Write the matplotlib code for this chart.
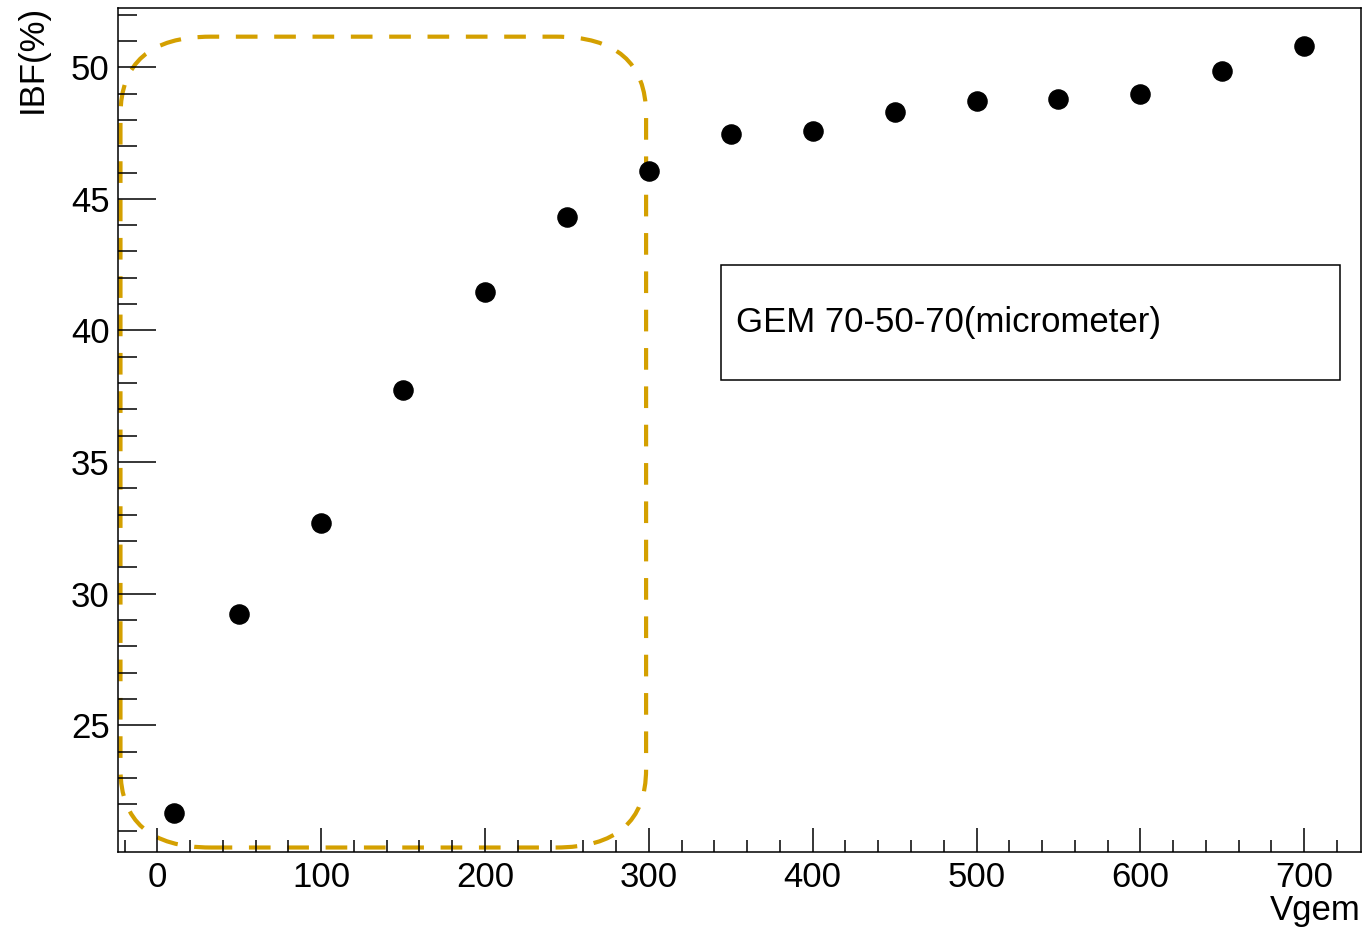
import numpy as np
import matplotlib
matplotlib.use("Agg")
import matplotlib.pyplot as plt
from matplotlib.patches import FancyBboxPatch, Rectangle
from matplotlib.ticker import MultipleLocator

plt.rcParams['font.family'] = ['Liberation Sans', 'DejaVu Sans']

# IBF vs GEM voltage
vgem = [10, 50, 100, 150, 200, 250, 300, 350, 400, 450, 500, 550, 600, 650, 700]
ibf = [21.66, 29.23, 32.70, 37.75, 41.47, 44.32, 46.07, 47.45, 47.58, 48.28,
       48.73, 48.80, 48.99, 49.86, 50.82]

label_text = "GEM 70-50-70(micrometer)"
gold = '#D4A000'

fig = plt.figure(figsize=(13.66, 9.27), dpi=100)
ax = fig.add_axes([0.0864, 0.0812, 0.9099, 0.9102])

ax.plot(vgem, ibf, 'o', color='black', markersize=13.8)

ax.set_xlim(-24, 734.6)
ax.set_ylim(20.2, 52.25)

ax.xaxis.set_major_locator(MultipleLocator(100))
ax.xaxis.set_minor_locator(MultipleLocator(20))
ax.yaxis.set_major_locator(MultipleLocator(5))
ax.yaxis.set_minor_locator(MultipleLocator(1))

ax.tick_params(axis='both', which='both', direction='in', labelsize=25,
               top=False, right=False, width=1.1)
ax.tick_params(axis='y', which='major', length=27, pad=6)
ax.tick_params(axis='y', which='minor', length=14)
ax.tick_params(axis='x', which='major', length=17, pad=7)
ax.tick_params(axis='x', which='minor', length=9)
for s in ax.spines.values():
    s.set_linewidth(1.1)

ax.set_ylabel('IBF(%)', fontsize=25, loc='top')
ax.yaxis.set_label_coords(-0.056, 1.004)
ax.set_xlabel('Vgem', fontsize=25, loc='right')
ax.xaxis.set_label_coords(1.0, -0.05)

# dashed highlight around the rising part
hl = FancyBboxPatch((-22.5, 20.36), 320.8, 30.8,
                    boxstyle='round,pad=0,rounding_size=55',
                    mutation_aspect=0.054,
                    fill=False, edgecolor=gold, linewidth=3,
                    linestyle=(0, (5.2, 4)), zorder=1)
ax.add_patch(hl)

# label box
ax.add_patch(Rectangle((0.485, 0.559), 0.498, 0.136, transform=ax.transAxes,
                       fill=False, edgecolor='black', linewidth=1.1))
ax.text(0.497, 0.627, label_text, transform=ax.transAxes, fontsize=25,
        va='center', ha='left')

fig.savefig('out.png', dpi=100)
